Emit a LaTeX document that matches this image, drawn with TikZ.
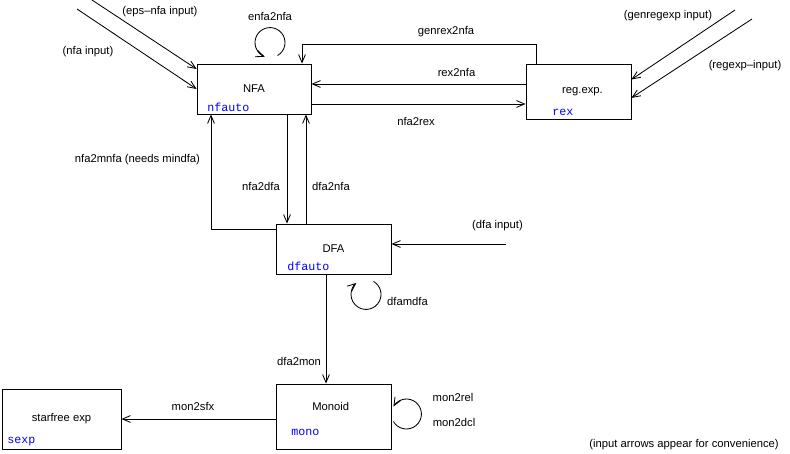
\documentclass[tikz,border=0pt]{standalone}
\usepackage{fontspec}
\setmainfont{Liberation Sans}
\setmonofont{Liberation Mono}
\usepackage{xcolor}
\usepackage{tikz}
\usetikzlibrary{arrows.meta}
\definecolor{TagBlue}{HTML}{0000FF}

\begin{document}
\begin{tikzpicture}[
    font=\fontsize{8}{10}\selectfont,
    machine/.style={draw, line width=0.6pt, align=center, inner sep=0pt},
    tag/.style={anchor=west, inner sep=0pt, text=TagBlue,
                font=\fontsize{8.3}{10}\selectfont\ttfamily},
    lbl/.style={inner sep=0pt},
    arrow/.style={-{Straight Barb[length=2mm, width=1.7mm]}, line width=0.6pt}
]
    \useasboundingbox (0,0) rectangle (19.75,-11.35);

    \node[machine, minimum width=2.85cm, minimum height=1.25cm] (nfa) at (6.35,-2.225) {NFA};
    \node[machine, minimum width=2.625cm, minimum height=1.375cm] (rex) at (14.4625,-2.2875) {};
    \node[lbl] (rextitle) at (14.5625,-2.3) {reg.exp.};
    \node[machine, minimum width=2.875cm, minimum height=1.25cm] (dfa) at (8.3375,-6.225) {DFA};
    \node[machine, minimum width=2.875cm, minimum height=1.625cm] (mon) at (8.3375,-10.4125) {};
    \node[lbl] (montitle) at (8.27,-10.15) {Monoid};
    \node[machine, minimum width=2.975cm, minimum height=1.5cm] (sfx) at (1.5375,-10.475) {starfree exp};

    \node[tag] (nfatag) at (5.175,-2.675) {nfauto};
    \node[tag] (rextag) at (13.8,-2.8) {rex};
    \node[tag] (dfatag) at (7.175,-6.65) {dfauto};
    \node[tag] (montag) at (7.275,-10.8) {mono};
    \node[tag] (sfxtag) at (0.175,-11.05) {sexp};

    % input arrows
    \coordinate (epsin) at (2.3,0);
    \coordinate (nfain) at (1.925,-0.225);
    \coordinate (genin) at (18.375,-0.25);
    \coordinate (rexin) at (18.8,-0.475);
    \coordinate (dfain) at (12.65,-6.1);
    \draw[arrow] (epsin) -- ([yshift=0.5cm]nfa.west);
    \draw[arrow] (nfain) -- (nfa.west);
    \draw[arrow] (genin) -- ([yshift=0.3cm]rex.east);
    \draw[arrow] (rexin) -- ([yshift=-0.16cm]rex.east);
    \draw[arrow] (dfain) -- (dfain -| dfa.east);
    \node[lbl] (epsinlbl) at (4.0,-0.3) {(eps--nfa input)};
    \node[lbl] (nfainlbl) at (2.2,-1.3) {(nfa input)};
    \node[lbl] (geninlbl) at (16.7,-0.4) {(genregexp input)};
    \node[lbl] (rexinlbl) at (18.625,-1.65) {(regexp--input)};
    \node[lbl] (dfainlbl) at (12.4375,-5.65) {(dfa input)};

    % conversions
    \coordinate (gr) at (13.4,-1.1);
    \coordinate (gn) at (7.55,-1.1);
    \coordinate (r2n) at (0,-2.1);
    \coordinate (n2r) at (0,-2.6);
    \coordinate (n2d) at (7.175,0);
    \coordinate (d2n) at (7.65,0);
    \coordinate (mnf) at (5.275,-5.725);
    \coordinate (d2m) at (8.15,0);
    \draw[arrow] (gr |- rex.north) -- (gr) -- (gn) -- (gn |- nfa.north);
    \draw[arrow] (rex.west |- r2n) -- (nfa.east |- r2n);
    \draw[arrow] (nfa.east |- n2r) -- (rex.west |- n2r);
    \draw[arrow] (n2d |- nfa.south) -- (n2d |- dfa.north);
    \draw[arrow] (d2n |- dfa.north) -- (d2n |- nfa.south);
    \draw[arrow] (dfa.west |- mnf) -- (mnf) -- (mnf |- nfa.south);
    \draw[arrow] (d2m |- dfa.south) -- (d2m |- mon.north);
    \draw[arrow] (mon.west |- sfx.east) -- (sfx.east);

    \draw[arrow] ([shift={(0.5875,0.2)}]nfa.north) arc[start angle=-60, end angle=250, radius=0.375cm];
    \draw[arrow] ([shift={(1.0,-0.175)}]dfa.south) arc[start angle=60, end angle=-230, radius=0.375cm];
    \draw[arrow] ([shift={(0.05,-0.125)}]mon.east) arc[start angle=210, end angle=510, radius=0.375cm];

    \node[lbl] (enfalbl) at (6.75,-0.4) {enfa2nfa};
    \node[lbl] (genrexlbl) at (11.15,-0.8) {genrex2nfa};
    \node[lbl] (rexnfalbl) at (11.4125,-1.8) {rex2nfa};
    \node[lbl] (nfarexlbl) at (10.4,-3.025) {nfa2rex};
    \node[lbl] (mnfalbl) at (3.4375,-4.0) {nfa2mnfa (needs mindfa)};
    \node[lbl] (nfadfalbl) at (6.525,-4.65) {nfa2dfa};
    \node[lbl] (dfanfalbl) at (8.275,-4.65) {dfa2nfa};
    \node[lbl] (dfamlbl) at (10.1875,-7.525) {dfamdfa};
    \node[lbl] (dfamonlbl) at (7.475,-9.025) {dfa2mon};
    \node[lbl] (monrellbl) at (11.325,-9.925) {mon2rel};
    \node[lbl] (mondcllbl) at (11.35,-10.55) {mon2dcl};
    \node[lbl] (monsfxlbl) at (4.825,-10.15) {mon2sfx};
    \node[lbl] (notelbl) at (17.1,-11.125) {(input arrows appear for convenience)};
\end{tikzpicture}
\end{document}
